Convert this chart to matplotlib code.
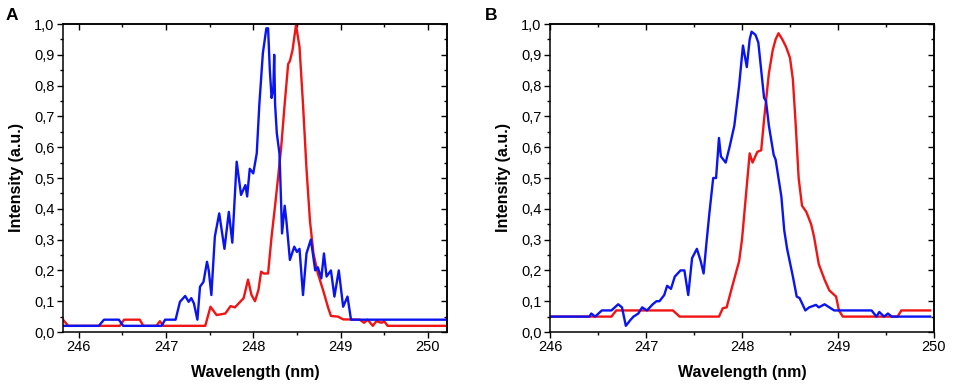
import matplotlib
matplotlib.use("Agg")
import matplotlib.pyplot as plt
from matplotlib.ticker import MultipleLocator, FuncFormatter

plt.rcParams['font.family'] = ['Liberation Sans', 'DejaVu Sans']

# Panel A
a_blue_x = [245.82, 246.23, 246.29, 246.46, 246.51, 246.95, 246.99, 247.11, 247.16, 247.22,
            247.26, 247.29, 247.32, 247.36, 247.39, 247.43, 247.47, 247.49, 247.52, 247.56,
            247.61, 247.67, 247.72, 247.76, 247.81, 247.86, 247.91, 247.93, 247.96, 248.00,
            248.04, 248.07, 248.11, 248.15, 248.17, 248.19, 248.21, 248.23, 248.24, 248.25,
            248.27, 248.30, 248.31, 248.33, 248.36, 248.38, 248.42, 248.47, 248.50, 248.53,
            248.57, 248.61, 248.66, 248.71, 248.74, 248.78, 248.81, 248.84, 248.89, 248.93,
            248.98, 249.03, 249.08, 249.12, 250.22]
a_blue_y = [0.02, 0.02, 0.04, 0.04, 0.02, 0.02, 0.04, 0.04, 0.098, 0.117,
            0.098, 0.11, 0.093, 0.04, 0.147, 0.163, 0.228, 0.20, 0.12, 0.31,
            0.385, 0.27, 0.39, 0.29, 0.553, 0.445, 0.477, 0.44, 0.53, 0.515,
            0.58, 0.74, 0.905, 0.986, 0.986, 0.85, 0.76, 0.79, 0.90, 0.74,
            0.645, 0.58, 0.50, 0.32, 0.41, 0.36, 0.234, 0.277, 0.26, 0.27,
            0.12, 0.255, 0.30, 0.20, 0.21, 0.174, 0.255, 0.18, 0.20, 0.115,
            0.20, 0.082, 0.115, 0.04, 0.04]
a_red_x = [245.82, 245.88, 246.47, 246.52, 246.70, 246.74, 246.89, 246.93, 246.97, 247.45,
           247.51, 247.58, 247.68, 247.74, 247.79, 247.85, 247.89, 247.94, 247.98, 248.02,
           248.06, 248.09, 248.12, 248.17, 248.21, 248.25, 248.28, 248.32, 248.36, 248.40,
           248.42, 248.45, 248.49, 248.53, 248.57, 248.61, 248.65, 248.69, 248.74, 248.80,
           248.86, 248.89, 248.97, 249.03, 249.22, 249.27, 249.31, 249.37, 249.41, 249.47,
           249.50, 249.54, 250.22]
a_red_y = [0.04, 0.02, 0.02, 0.04, 0.04, 0.02, 0.02, 0.035, 0.02, 0.02,
           0.082, 0.055, 0.06, 0.084, 0.08, 0.098, 0.11, 0.17, 0.12, 0.10,
           0.137, 0.196, 0.19, 0.19, 0.31, 0.41, 0.49, 0.60, 0.74, 0.87,
           0.88, 0.915, 0.997, 0.926, 0.74, 0.53, 0.36, 0.255, 0.19, 0.136,
           0.077, 0.052, 0.05, 0.041, 0.04, 0.03, 0.04, 0.02, 0.035, 0.03,
           0.035, 0.02, 0.02]

# Panel B
b_blue_x = [246.00, 246.41, 246.43, 246.47, 246.54, 246.64, 246.71, 246.75, 246.79, 246.84,
            246.87, 246.92, 246.96, 247.01, 247.07, 247.11, 247.14, 247.19, 247.22, 247.26,
            247.30, 247.36, 247.40, 247.44, 247.48, 247.53, 247.57, 247.60, 247.63, 247.66,
            247.70, 247.73, 247.76, 247.78, 247.83, 247.87, 247.92, 247.97, 248.01, 248.05,
            248.08, 248.10, 248.14, 248.17, 248.20, 248.23, 248.25, 248.28, 248.33, 248.35,
            248.38, 248.41, 248.44, 248.47, 248.53, 248.57, 248.60, 248.66, 248.70, 248.77,
            248.80, 248.86, 248.91, 248.96, 249.35, 249.40, 249.43, 249.48, 249.52, 249.56,
            249.96]
b_blue_y = [0.05, 0.05, 0.06, 0.05, 0.07, 0.07, 0.09, 0.08, 0.02, 0.04,
            0.05, 0.06, 0.08, 0.07, 0.09, 0.10, 0.10, 0.12, 0.15, 0.14,
            0.18, 0.20, 0.20, 0.12, 0.24, 0.27, 0.23, 0.19, 0.29, 0.385,
            0.50, 0.50, 0.63, 0.57, 0.55, 0.60, 0.67, 0.80, 0.93, 0.86,
            0.95, 0.975, 0.965, 0.94, 0.85, 0.76, 0.75, 0.67, 0.575, 0.56,
            0.50, 0.44, 0.33, 0.27, 0.18, 0.115, 0.11, 0.07, 0.08, 0.088,
            0.08, 0.09, 0.08, 0.07, 0.07, 0.05, 0.065, 0.05, 0.06, 0.05,
            0.05]
b_red_x = [246.00, 246.64, 246.69, 247.28, 247.35, 247.76, 247.80, 247.84, 247.90, 247.97,
           248.00, 248.04, 248.08, 248.11, 248.16, 248.20, 248.23, 248.28, 248.32, 248.35,
           248.38, 248.42, 248.46, 248.50, 248.53, 248.56, 248.59, 248.625, 248.67, 248.72,
           248.75, 248.80, 248.86, 248.91, 248.98, 249.01, 249.05, 249.62, 249.66, 249.96]
b_red_y = [0.05, 0.05, 0.07, 0.07, 0.05, 0.05, 0.077, 0.08, 0.15, 0.23,
           0.30, 0.44, 0.58, 0.55, 0.585, 0.59, 0.69, 0.84, 0.915, 0.95,
           0.97, 0.95, 0.925, 0.89, 0.82, 0.67, 0.50, 0.41, 0.39, 0.35,
           0.31, 0.22, 0.17, 0.135, 0.115, 0.07, 0.05, 0.05, 0.07, 0.07]

x_ticks = [246, 247, 248, 249, 250]
y_ticks = [0.0, 0.1, 0.2, 0.3, 0.4, 0.5, 0.6, 0.7, 0.8, 0.9, 1.0]

fig = plt.figure(figsize=(9.57, 3.89), dpi=100)
axA = fig.add_axes([63/957, 1-332/389, (447-63)/957, (332-24)/389])
axB = fig.add_axes([550/957, 1-332/389, (934-550)/957, (332-24)/389])

BLUE = '#0a14f0'
RED = '#f01414'

def style(ax, xlim):
    ax.set_xlim(*xlim)
    ax.set_ylim(0, 1.0)
    ax.set_xticks(x_ticks)
    ax.set_yticks(y_ticks)
    ax.xaxis.set_minor_locator(MultipleLocator(0.5))
    ax.yaxis.set_minor_locator(MultipleLocator(0.05))
    ax.yaxis.set_major_formatter(FuncFormatter(lambda v, p: f"{v:.1f}".replace('.', ',')))
    ax.xaxis.set_major_formatter(FuncFormatter(lambda v, p: f"{v:.0f}"))
    for s in ax.spines.values():
        s.set_linewidth(1.1)
    ax.tick_params(which='major', direction='out', length=4, width=1.0, labelsize=10.5, pad=2)
    ax.tick_params(which='minor', direction='out', length=2.5, width=1.0)
    sec_x = ax.secondary_xaxis('top')
    sec_x.set_xticks(x_ticks)
    sec_x.xaxis.set_minor_locator(MultipleLocator(0.5))
    sec_x.tick_params(which='major', direction='in', length=4, width=1.0, labeltop=False)
    sec_x.tick_params(which='minor', direction='in', length=2.5, width=1.0)
    sec_x.spines['top'].set_linewidth(1.1)
    sec_y = ax.secondary_yaxis('right')
    sec_y.set_yticks(y_ticks)
    sec_y.yaxis.set_minor_locator(MultipleLocator(0.05))
    sec_y.tick_params(which='major', direction='in', length=4, width=1.0, labelright=False)
    sec_y.tick_params(which='minor', direction='in', length=2.5, width=1.0)
    sec_y.spines['right'].set_linewidth(1.1)
    ax.set_xlabel('Wavelength (nm)', fontsize=11.5, fontweight='bold', labelpad=8)
    ax.set_ylabel('Intensity (a.u.)', fontsize=11.5, fontweight='bold', labelpad=7)

axA.plot(a_red_x, a_red_y, color=RED, lw=1.7)
axA.plot(a_blue_x, a_blue_y, color=BLUE, lw=1.7)
style(axA, (245.82, 250.22))

axB.plot(b_red_x, b_red_y, color=RED, lw=1.7)
axB.plot(b_blue_x, b_blue_y, color=BLUE, lw=1.7)
style(axB, (246.0, 250.0))

fig.text(12/957, 1-16/389, 'A', fontsize=12.5, fontweight='bold', ha='center', va='center')
fig.text(491/957, 1-16/389, 'B', fontsize=12.5, fontweight='bold', ha='center', va='center')

fig.savefig('out.png', dpi=100)
